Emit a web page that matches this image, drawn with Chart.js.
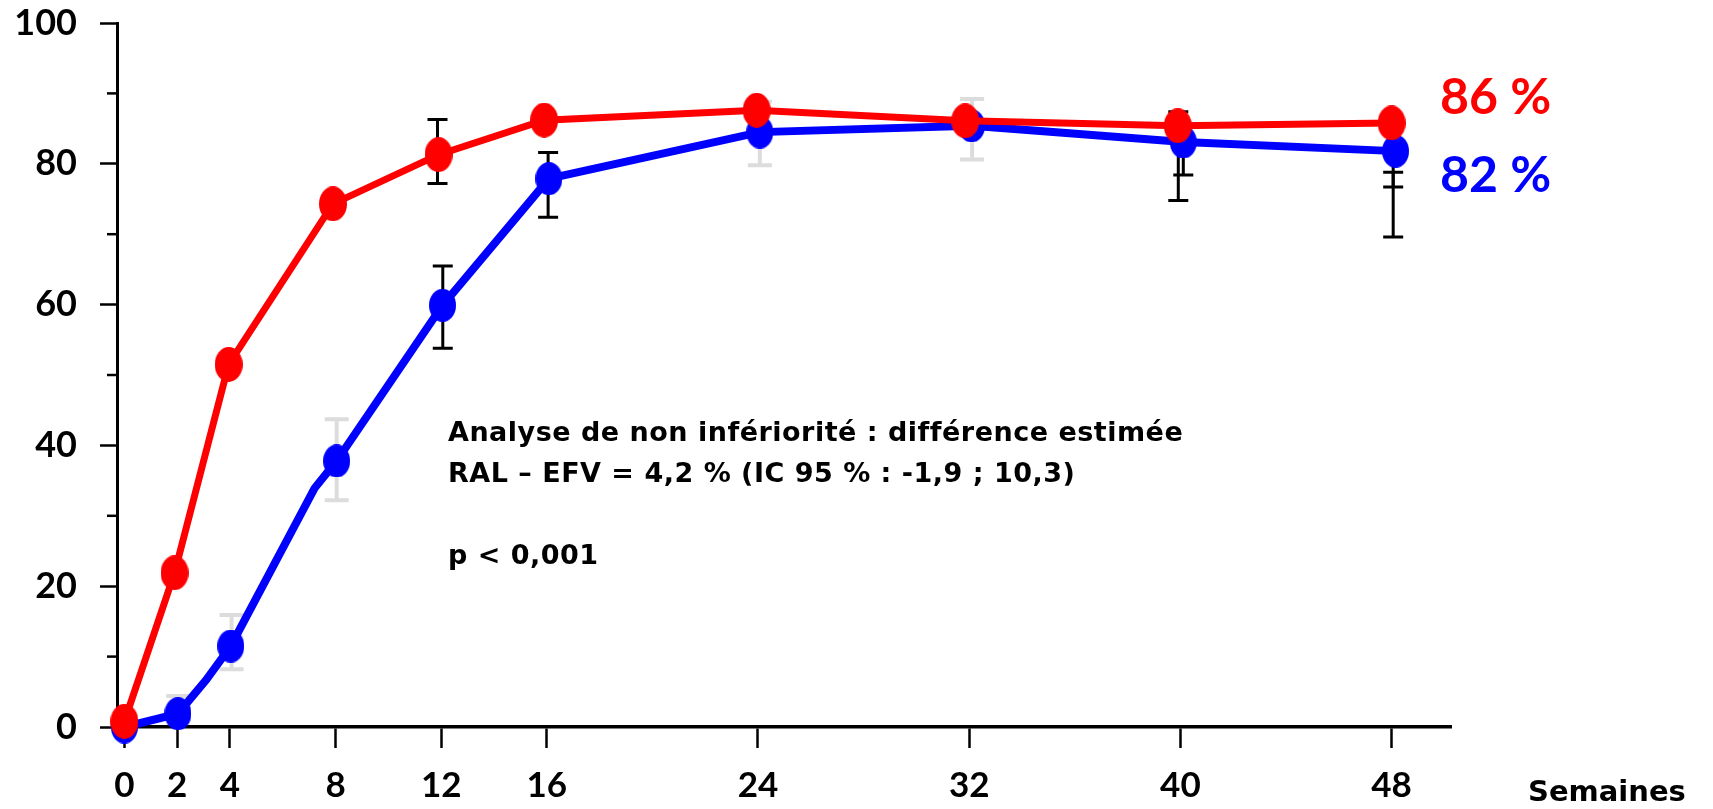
<!DOCTYPE html>
<html lang="fr">
<head>
  <meta charset="UTF-8">
  <title>RAL vs EFV - semaines</title>
  <script src="https://cdn.jsdelivr.net/npm/chart.js"></script>
  <style>
    body { margin: 0; background: #fff; }
    canvas { display: block; }
  </style>
</head>
<body>
  <canvas id="myChart" width="1713" height="809"></canvas>

  <script>
    // semaines (axe x)
    const weekTicks = [0, 2, 4, 8, 12, 16, 24, 32, 40, 48];
    const yMinorTicks = [10, 30, 50, 70, 90];

    // RAL (rouge)
    const redWeeks = [0, 1.9, 3.95, 7.9, 11.9, 15.9, 23.95, 31.85, 39.9, 48];
    const redValues = [0.8, 21.9, 51.5, 74.3, 81.3, 86.2, 87.6, 86.1, 85.4, 85.8];

    // EFV (bleu) - certains points de la courbe n'ont pas de marqueur
    const blueWeeks = [0, 2.03, 3.1, 4.03, 7.2, 8.04, 12.05, 16.08, 24.07, 32.09, 40.11, 48.15];
    const blueValues = [0, 1.9, 6.7, 11.5, 33.9, 37.8, 59.9, 77.9, 84.5, 85.4, 83.1, 81.8];
    const blueMarked = [true, true, false, true, false, true, true, true, true, true, true, true];

    // barres d'erreur (IC)
    const grayBarWeeks = [2.04, 4.06, 8.04, 24.07, 32.11];
    const grayBarLow = [1.9, 8.2, 32.2, 79.8, 80.6];
    const grayBarHigh = [4.4, 15.9, 43.7, 88.8, 89.2];
    const blackBarWeeks = [11.86, 12.06, 16.05, 39.92, 40.11, 48.06, 48.06];
    const blackBarLow = [77.2, 53.8, 72.4, 74.8, 78.4, 69.6, 76.7];
    const blackBarHigh = [86.3, 65.5, 81.6, 87.4, 83.1, 78.8, 81.8];

    const endLabels = ['86 %', '82 %'];
    const endLabelValues = [89.4, 78.3];
    const noteLines = [
      'Analyse de non infériorité : différence estimée',
      'RAL – EFV = 4,2 % (IC 95 % : -1,9 ; 10,3)',
      '',
      'p < 0,001'
    ];
    const xTitle = 'Semaines';

    const RED = '#ff0000';
    const BLUE = '#0000ff';
    const FONT = 'Lato, "DejaVu Sans", sans-serif';
    const WIDE = '"DejaVu Sans", sans-serif';

    function ellipse(color, w, h) {
      const c = document.createElement('canvas');
      c.width = w; c.height = h;
      const g = c.getContext('2d');
      g.fillStyle = color;
      g.beginPath();
      g.ellipse(w / 2, h / 2, w / 2, h / 2, 0, 0, Math.PI * 2);
      g.fill();
      return c;
    }
    const redDot = ellipse(RED, 28, 35);
    const blueDot = ellipse(BLUE, 27, 33);

    // barres d'erreur, sous les courbes
    const errorBars = {
      id: 'errorBars',
      beforeDatasetsDraw(chart) {
        const { ctx, scales: { x, y } } = chart;
        const draw = (weeks, lows, highs, color, lw, cap) => {
          ctx.save();
          ctx.strokeStyle = color;
          ctx.lineWidth = lw;
          weeks.forEach((w, i) => {
            const px = x.getPixelForValue(w);
            const y1 = y.getPixelForValue(lows[i]);
            const y2 = y.getPixelForValue(highs[i]);
            ctx.beginPath();
            ctx.moveTo(px, y1); ctx.lineTo(px, y2);
            ctx.moveTo(px - cap, y1); ctx.lineTo(px + cap, y1);
            ctx.moveTo(px - cap, y2); ctx.lineTo(px + cap, y2);
            ctx.stroke();
          });
          ctx.restore();
        };
        draw(grayBarWeeks, grayBarLow, grayBarHigh, '#dcdcdc', 4, 12);
        draw(blackBarWeeks, blackBarLow, blackBarHigh, '#000', 3, 10);
      }
    };

    // petites graduations + textes
    const extras = {
      id: 'extras',
      afterDraw(chart) {
        const { ctx, chartArea, scales: { x, y } } = chart;
        ctx.save();
        ctx.strokeStyle = '#000';
        ctx.lineWidth = 2.5;
        yMinorTicks.forEach(v => {
          const py = y.getPixelForValue(v);
          ctx.beginPath();
          ctx.moveTo(chartArea.left - 10, py);
          ctx.lineTo(chartArea.left, py);
          ctx.stroke();
        });

        ctx.textBaseline = 'middle';
        ctx.textAlign = 'left';
        ctx.font = 'bold 50px ' + FONT;
        [RED, BLUE].forEach((c, i) => {
          ctx.fillStyle = c;
          ctx.fillText(endLabels[i], chartArea.right - 11, y.getPixelForValue(endLabelValues[i]));
        });

        ctx.fillStyle = '#000';
        ctx.font = 'bold 27px ' + WIDE;
        ctx.letterSpacing = '0.5px';
        noteLines.forEach((t, i) => {
          ctx.fillText(t, 448, 434 + i * 41);
        });

        ctx.letterSpacing = '0px';
        ctx.font = 'bold 29px ' + WIDE;
        ctx.fillText(xTitle, 1528, 793);
        ctx.restore();
      }
    };

    document.addEventListener('DOMContentLoaded', function () {
      const ctx = document.getElementById('myChart').getContext('2d');

      const config = {
        type: 'line',
        data: {
          datasets: [{
            label: 'RAL',
            data: redWeeks.map((w, i) => ({ x: w, y: redValues[i] })),
            borderColor: RED,
            backgroundColor: RED,
            borderWidth: 7,
            pointStyle: redDot,
            pointRadius: 14,
            tension: 0,
            clip: false
          }, {
            label: 'EFV',
            data: blueWeeks.map((w, i) => ({ x: w, y: blueValues[i] })),
            borderColor: BLUE,
            backgroundColor: BLUE,
            borderWidth: 8,
            pointStyle: blueDot,
            pointRadius: blueMarked.map(m => m ? 14 : 0),
            tension: 0,
            clip: false
          }]
        },
        options: {
          responsive: false,
          devicePixelRatio: 1,
          animation: false,
          layout: { padding: { left: 0, right: 262, top: 23, bottom: 0 } },
          plugins: {
            legend: { display: false },
            tooltip: { enabled: false }
          },
          scales: {
            x: {
              type: 'linear',
              min: -0.28,
              max: 50.25,
              afterBuildTicks: axis => { axis.ticks = weekTicks.map(v => ({ value: v })); },
              afterFit: scale => { scale.height = 82; scale.paddingLeft = 0; scale.paddingRight = 0; },
              grid: {
                drawOnChartArea: false,
                drawTicks: true,
                tickLength: 21,
                tickWidth: 2.5,
                tickColor: '#000'
              },
              border: { display: true, color: '#000', width: 3.5 },
              ticks: {
                color: '#000',
                padding: 17,
                maxRotation: 0,
                autoSkip: false,
                font: { family: FONT, size: 35, weight: 'bold' }
              }
            },
            y: {
              min: 0,
              max: 100,
              afterFit: scale => { scale.width = 117; scale.paddingTop = 0; scale.paddingBottom = 0; },
              grid: {
                drawOnChartArea: false,
                drawTicks: true,
                tickLength: 17,
                tickWidth: 2.5,
                tickColor: '#000'
              },
              border: { display: true, color: '#000', width: 3 },
              ticks: {
                stepSize: 20,
                color: '#000',
                padding: 23,
                font: { family: FONT, size: 36, weight: 'bold' }
              }
            }
          }
        },
        plugins: [errorBars, extras]
      };

      new Chart(ctx, config);
    });
  </script>
</body>
</html>
